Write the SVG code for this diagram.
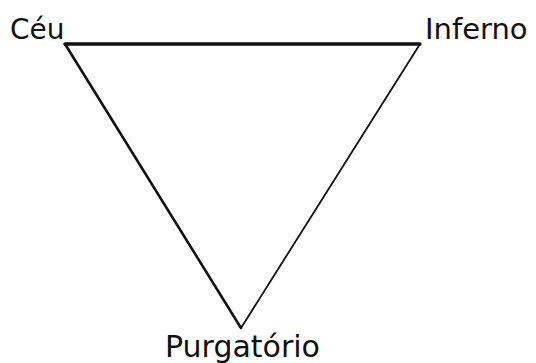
<svg xmlns="http://www.w3.org/2000/svg" width="536" height="363" viewBox="0 0 536 363">
<style>
.lbl{font-family:"DejaVu Sans",Verdana,sans-serif;fill:#111}
.edge{stroke:#111;fill:none;stroke-linecap:round}
</style>
<rect width="536" height="363" fill="#fff"/>
<g id="connectors">
<line class="edge" x1="65" y1="44" x2="420" y2="44" stroke-width="3.5"/>
<line class="edge" x1="65" y1="44" x2="241" y2="328" stroke-width="2.6"/>
<line class="edge" x1="420" y1="44" x2="241" y2="328" stroke-width="1.8"/>
</g>
<g id="ceu"><text class="lbl" x="10" y="39" font-size="28">Céu</text></g>
<g id="inferno"><text class="lbl" x="425" y="39" font-size="29">Inferno</text></g>
<g id="purgatorio"><text class="lbl" x="165" y="357" font-size="30">Purgatório</text></g>
</svg>
